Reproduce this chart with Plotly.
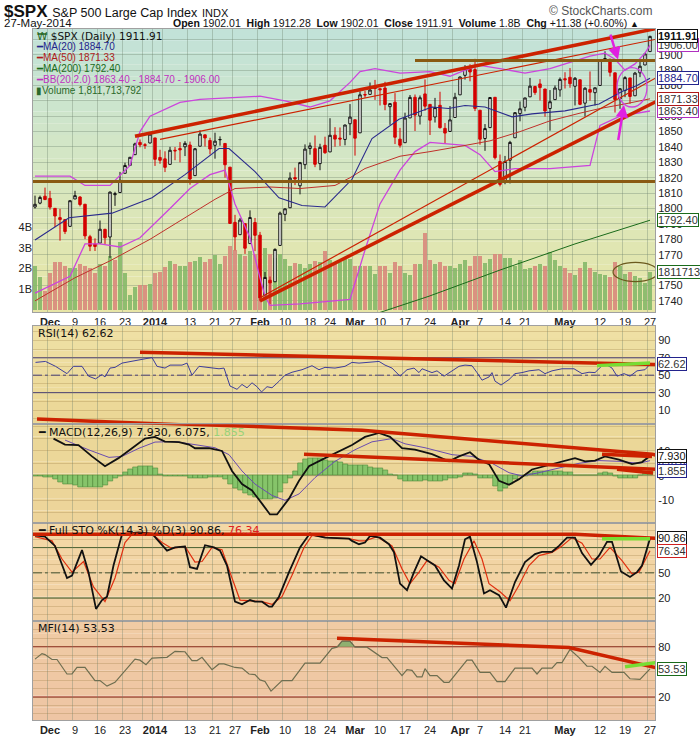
import plotly.graph_objects as go

# trading days shown on the chart; Dec 2 2013 sits at position 0
month_days = [
    ("2013-11", [26, 27, 29]),
    ("2013-12", [2, 3, 4, 5, 6, 9, 10, 11, 12, 13, 16, 17, 18, 19, 20, 23, 24, 26, 27, 30, 31]),
    ("2014-01", [2, 3, 6, 7, 8, 9, 10, 13, 14, 15, 16, 17, 21, 22, 23, 24, 27, 28, 29, 30, 31]),
    ("2014-02", [3, 4, 5, 6, 7, 10, 11, 12, 13, 14, 18, 19, 20, 21, 24, 25, 26, 27, 28]),
    ("2014-03", [3, 4, 5, 6, 7, 10, 11, 12, 13, 14, 17, 18, 19, 20, 21, 24, 25, 26, 27, 28, 31]),
    ("2014-04", [1, 2, 3, 4, 7, 8, 9, 10, 11, 14, 15, 16, 17, 21, 22, 23, 24, 25, 28, 29, 30]),
    ("2014-05", [1, 2, 5, 6, 7, 8, 9, 12, 13, 14, 15, 16, 19, 20, 21, 22, 23, 27]),
]
dates = [f"{m}-{d:02d}" for m, days in month_days for d in days]
pos = [i - dates.index("2013-12-02") for i in range(len(dates))]

opens = [1801.0, 1803.5, 1808.0, 1806.6, 1800.1, 1794.1, 1792.8, 1788.4, 1806.2, 1807.5, 1802.8, 1781.7, 1777.0,
         1777.5, 1786.5, 1781.5, 1809.0, 1810.4, 1822.9, 1828.0, 1835.0, 1843.0, 1841.5, 1842.6,
         1845.9, 1833.2, 1832.3, 1828.7, 1837.9, 1839.0, 1840.1, 1841.3, 1821.4, 1840.5,
         1847.9, 1844.2, 1841.1, 1844.7, 1842.3, 1826.9, 1791.0, 1783.0, 1790.2, 1777.2,
         1790.9, 1782.7, 1743.8, 1753.4, 1752.4, 1776.0, 1796.2, 1800.5, 1820.1, 1814.8,
         1828.5, 1839.0, 1838.9, 1829.2, 1841.1, 1836.8, 1847.7, 1845.8, 1844.9, 1855.1,
         1857.7, 1849.2, 1874.1, 1874.2, 1878.5, 1877.9, 1878.3, 1866.2, 1869.1, 1845.1,
         1842.8, 1858.9, 1872.3, 1860.1, 1874.5, 1867.7, 1859.5, 1867.1, 1852.1, 1850.1,
         1859.2, 1873.9, 1886.6, 1891.4, 1890.3, 1863.9, 1845.5, 1852.6, 1872.3, 1830.6,
         1818.2, 1831.4, 1846.0, 1861.7, 1865.8, 1872.6, 1879.3, 1881.0, 1877.7, 1865.0,
         1870.8, 1877.1, 1884.4, 1885.3, 1879.5, 1883.7, 1868.5, 1877.4, 1875.3, 1880.0,
         1896.8, 1897.1, 1888.2, 1871.2, 1876.7, 1884.9, 1873.3, 1888.2, 1893.3, 1902.0]
highs = [1808.4, 1808.4, 1813.6, 1811.5, 1800.1, 1799.8, 1792.8, 1805.1, 1811.5, 1808.0, 1802.9, 1782.9, 1780.6,
         1792.2, 1786.8, 1811.1, 1810.9, 1823.8, 1829.8, 1833.4, 1842.8, 1844.9, 1842.5, 1849.4,
         1845.9, 1838.2, 1837.2, 1840.1, 1840.0, 1843.2, 1843.8, 1843.5, 1839.3, 1850.8,
         1847.9, 1846.0, 1849.3, 1846.9, 1842.3, 1826.9, 1795.9, 1793.9, 1790.2, 1798.8,
         1793.9, 1784.8, 1758.7, 1755.8, 1774.1, 1798.0, 1799.9, 1823.5, 1826.6, 1830.3,
         1841.7, 1842.9, 1847.5, 1842.1, 1846.7, 1858.7, 1852.9, 1852.7, 1854.5, 1867.9,
         1857.7, 1876.2, 1876.5, 1881.9, 1883.6, 1877.9, 1882.4, 1868.4, 1875.0, 1852.4,
         1862.3, 1873.8, 1874.1, 1873.5, 1883.9, 1867.9, 1871.9, 1875.9, 1855.6, 1866.6,
         1875.2, 1885.8, 1893.2, 1893.8, 1897.3, 1864.0, 1854.9, 1872.4, 1872.5, 1835.1,
         1834.2, 1844.0, 1862.5, 1869.6, 1871.9, 1884.9, 1879.8, 1884.1, 1877.7, 1877.0,
         1880.0, 1885.2, 1888.6, 1891.3, 1885.5, 1883.7, 1878.8, 1889.1, 1878.6, 1897.1,
         1902.2, 1897.1, 1888.2, 1878.3, 1886.0, 1884.9, 1888.8, 1896.3, 1901.3, 1912.3]
lows = [1800.0, 1802.8, 1805.5, 1799.3, 1787.9, 1779.1, 1783.4, 1788.4, 1806.2, 1801.4, 1780.1, 1772.3, 1772.4,
        1777.5, 1777.0, 1767.9, 1801.7, 1810.4, 1822.9, 1828.0, 1835.0, 1839.8, 1838.8, 1842.4,
        1827.7, 1829.1, 1823.7, 1828.7, 1831.4, 1830.0, 1834.1, 1815.5, 1821.4, 1840.5,
        1840.3, 1835.2, 1832.4, 1840.9, 1820.1, 1790.0, 1772.9, 1783.0, 1770.5, 1777.2,
        1772.3, 1739.7, 1743.8, 1737.9, 1752.4, 1776.0, 1791.8, 1800.4, 1815.2, 1809.2,
        1825.6, 1835.0, 1826.9, 1824.9, 1835.6, 1836.8, 1840.2, 1840.7, 1841.1, 1847.7,
        1834.4, 1849.2, 1872.0, 1874.2, 1870.6, 1867.0, 1863.9, 1854.4, 1841.9, 1839.6,
        1842.8, 1858.9, 1850.4, 1854.6, 1863.5, 1847.8, 1855.9, 1852.0, 1842.1, 1850.1,
        1859.2, 1873.9, 1883.8, 1882.7, 1863.3, 1841.5, 1837.5, 1852.4, 1831.9, 1814.4,
        1815.8, 1816.3, 1846.0, 1856.7, 1863.2, 1872.6, 1873.9, 1870.2, 1859.7, 1850.6,
        1870.8, 1872.7, 1878.0, 1878.5, 1867.0, 1867.2, 1859.8, 1870.1, 1867.0, 1880.0,
        1896.1, 1885.8, 1862.4, 1864.8, 1872.4, 1868.1, 1873.3, 1885.4, 1893.3, 1902.0]
closes = [1802.75, 1807.23, 1805.81, 1800.90, 1795.15, 1792.81, 1785.03, 1805.09, 1808.37, 1802.62, 1782.22, 1775.50, 1775.32,
          1786.54, 1781.00, 1810.65, 1809.60, 1818.32, 1827.99, 1833.32, 1842.02, 1841.40, 1841.07, 1848.36,
          1831.98, 1831.37, 1826.77, 1837.88, 1837.49, 1838.13, 1842.37, 1819.20, 1838.88, 1848.38,
          1845.89, 1838.70, 1843.80, 1844.86, 1828.46, 1790.29, 1781.56, 1792.50, 1774.20, 1794.19,
          1782.59, 1741.89, 1755.20, 1751.64, 1773.43, 1797.02, 1799.84, 1819.75, 1819.26, 1829.83,
          1838.63, 1840.76, 1828.75, 1839.78, 1836.25, 1847.61, 1845.12, 1845.16, 1854.29, 1859.45,
          1845.73, 1873.91, 1873.81, 1877.03, 1878.04, 1877.17, 1867.63, 1868.20, 1846.34, 1841.13,
          1858.83, 1872.25, 1860.77, 1872.01, 1866.52, 1857.44, 1865.62, 1852.56, 1849.04, 1857.62,
          1872.34, 1885.52, 1890.90, 1888.77, 1865.09, 1845.04, 1851.96, 1872.18, 1833.08, 1815.69,
          1830.61, 1842.98, 1862.31, 1864.85, 1871.89, 1879.55, 1875.39, 1878.61, 1863.40, 1869.43,
          1878.33, 1883.95, 1883.68, 1881.14, 1884.66, 1867.72, 1878.21, 1875.63, 1878.48, 1896.65,
          1897.45, 1888.53, 1870.85, 1877.86, 1885.08, 1872.83, 1888.03, 1892.49, 1900.53, 1911.91]
# volume in billions of shares
volume_b = [2.1, 1.6, 0.9,
            1.8, 2.3, 2.3, 2.1, 2.0, 2.0, 2.2, 2.1, 2.0, 1.8, 2.2, 2.1, 2.6, 2.4, 3.3, 1.8, 0.7, 1.1, 1.2, 1.2, 1.25,
            1.8, 1.85, 2.05, 2.35, 2.2, 2.1,
            2.1, 2.3, 2.35, 2.55, 2.3, 2.45, 2.65, 2.2, 2.6, 3.1, 2.9, 2.7, 2.6, 2.85, 2.7,
            2.45, 3.0, 2.7, 2.5, 2.7, 2.45, 2.1, 2.25, 2.2, 2.0, 2.2, 2.35, 2.3, 2.85, 2.4,
            2.25, 2.3, 2.45, 2.45, 2.1, 2.1, 2.1, 2.1, 1.75, 2.1, 2.1, 1.8, 2.3, 2.1, 1.8, 1.7,
            2.2, 2.2, 3.7, 2.4, 2.2, 2.3, 2.1, 2.1, 2.0, 2.2, 2.4, 2.1, 2.6, 2.6, 2.25, 2.45,
            2.7, 2.7, 2.5, 2.5, 2.1, 2.4, 1.95, 2.0, 2.1, 2.2, 2.1, 2.8, 2.4, 2.1, 2.0, 1.8,
            1.7, 2.0, 2.3, 2.0, 1.85, 1.75, 1.7, 1.6, 2.3, 2.1, 1.75, 1.85, 1.65, 1.55, 1.3, 1.81]

# overlays (position, value)
ma20_x = [-3, 3.8, 12.4, 20.4, 27, 33.8, 35.8, 41, 45.8, 50.4, 55, 60.4, 64.4, 69.8, 76.4, 79.7, 83, 87,
          92.4, 96.4, 103, 109.8, 114.4, 117.4, 120]
ma20_y = [1779.5, 1794, 1797, 1807, 1822, 1839, 1839, 1824, 1807, 1802, 1801, 1819, 1845.5, 1858, 1866, 1865,
          1867, 1866, 1859.6, 1861.5, 1863.5, 1868, 1876, 1880, 1884.70]
ma50_x = [-3, 5, 12, 20, 27, 33, 37, 44, 50, 57, 60, 63, 70, 76, 83, 88, 94, 100, 106, 110, 115, 120]
ma50_y = [1740, 1755, 1766, 1780, 1794, 1806, 1813, 1814, 1813, 1815, 1820, 1826, 1834, 1837, 1841, 1844,
          1850, 1857, 1862, 1865, 1868, 1871.33]
ma200_x = [60, 75.8, 90, 105, 120]
ma200_y = [1726, 1743, 1760, 1777, 1792.40]
bbu_x = [-3, 4, 7, 12, 16, 18, 20, 26, 30, 36, 42, 47, 52, 56, 60, 62, 65, 70, 76, 80, 83, 86, 90, 95, 100,
         104, 108, 111, 113, 115, 117, 119, 120]
bbu_y = [1821, 1821, 1815, 1815, 1828, 1850, 1860, 1869, 1871, 1872, 1873, 1870, 1866, 1870, 1882, 1889, 1891,
         1888, 1889, 1886, 1890, 1893, 1891, 1888, 1891, 1895, 1899, 1901, 1897, 1890, 1894, 1901, 1906.00]
bbl_x = [-3, 4, 7, 10, 14, 18, 24, 28, 32, 35, 37, 40, 42, 43, 44, 50, 60, 63, 66, 70, 73, 76, 83, 86, 89,
         93, 100, 108, 110, 114, 120]
bbl_y = [1745, 1756, 1777, 1777, 1775, 1781, 1800, 1813, 1822, 1825, 1803, 1781, 1755, 1743, 1737, 1738, 1741,
         1773, 1803, 1825, 1837, 1843, 1841, 1835, 1824, 1826, 1826, 1828, 1854, 1860, 1863.40]

rsi_x = [-2.9, -0.9, 1.1, 3.4, 4.7, 6.4, 7.7, 9.1, 10.4, 11, 12, 13, 14.4, 16.4, 18.4, 20.4, 21.4, 23, 24, 26.4,
         27.4, 28.4, 29.8, 31.8, 33.8, 34.8, 36, 37.4, 38.4, 39.4, 40.4, 41.4, 42.3, 43.4, 44.4, 45.8, 47, 48.4,
         50.4, 52.4, 53.8, 55, 57, 59, 60.4, 61.8, 64.4, 65.8, 67, 68.4, 70, 71.4, 72.8, 73.8, 74.4, 76.4, 77.4,
         78.8, 80, 81.8, 83, 84.4, 85.4, 86.4, 87.8, 88.4, 89, 90.2, 91.8, 93, 94.4, 95.8, 97.8, 99, 100.4, 102.4,
         104.8, 106.4, 107.8, 109, 110.4, 111.4, 112.4, 113.4, 114.8, 116, 117.4, 119, 120]
rsi_y = [64.7, 65.8, 60.2, 51.8, 60.2, 60.2, 48.9, 45.8, 50.7, 48, 58.2, 59, 63.9, 65.8, 68.4, 70.3, 60.2, 58.2,
         61.6, 61.6, 63.9, 50, 60.2, 59, 57.4, 58.2, 37.6, 33.8, 39.4, 35.6, 41.3, 36.8, 30.8, 36.8, 35.6, 43, 50,
         53.4, 56.3, 60.9, 56.3, 59, 58.2, 60.2, 64.7, 63.9, 64.7, 65.8, 61.6, 58.2, 48.9, 56.3, 58.2, 53, 57.4,
         53, 55, 48.9, 53.4, 60.2, 61.6, 60.9, 53, 44.3, 48, 53, 43.2, 38.7, 45, 51.8, 53, 55, 56.3, 51.8, 55,
         57.4, 57.4, 51.8, 53.4, 53, 60.9, 61.6, 58.2, 48.9, 51.8, 48.9, 55, 56.3, 62.62]

macd_x = [0.7, 3, 5.7, 8.4, 11, 13.7, 16.4, 19, 21, 23, 25.8, 27.8, 29, 31.8, 34.4, 36.4, 38.4, 40.4, 42.4, 44,
          45.4, 47.8, 49.8, 51.8, 54.4, 57.8, 60.4, 63, 65.8, 68, 70.4, 73, 76.4, 79.8, 81.8, 84, 85.8, 87.8, 89.8,
          91.8, 93.8, 96.4, 99, 102.4, 105, 107, 109, 111, 113.8, 116.4, 118.4, 120]
macd_y = [15.0, 12.6, 12.4, 7.8, 3.8, 7.1, 11.1, 15.0, 15.7, 13.8, 13.6, 12.6, 11.1, 11.1, 10.0, 1.9, -3.4, -6.0,
          -11.3, -15.7, -15.7, -9.3, -2.1, 3.8, 6.5, 9.8, 12.4, 15.7, 17.3, 15.7, 11.1, 10.5, 8.7, 5.8, 7.8, 9.5,
          6.4, 4.7, -2.1, -3.7, -1.4, 2.5, 3.8, 5.8, 7.1, 5.8, 6.1, 7.8, 6.5, 4.7, 5.5, 7.930]
signal_x = [3, 7.8, 11.8, 14.4, 17.8, 21, 25, 29, 33, 35.8, 38.4, 41, 44.4, 47, 49.8, 53, 57, 61, 64.4, 68.4,
            71, 75, 80.4, 84.4, 88.4, 91.8, 94.4, 97.8, 101.8, 105.8, 109.8, 113.8, 117.8, 120]
signal_y = [14.4, 10.4, 7.4, 7.8, 11.1, 13.6, 13.8, 12.6, 11.3, 8.5, 1.9, -3.4, -8.0, -10.0, -7.4, -0.8, 5.8,
            10.5, 13.7, 15.0, 12.9, 11.3, 8.5, 7.8, 5.0, 1.2, -0.1, 1.2, 3.2, 5.0, 6.1, 5.8, 5.0, 6.075]
macd_hist = [-0.3, -0.3, -0.5, -0.8, -1.5, -2.5, -3.5, -3.5, -3.8, -4.9, -4.9, -4.9, -4.9,
             -4.5, -3.8, -2.2, -1.0, -0.3, 1.5, 2.4, 3.2, 4.0, 4.0, 4.0,
             3.0, 0.4, -0.3, -0.3, -0.3, -0.3, -0.3, -0.9, -0.9, -0.9,
             -0.9, -0.7, -0.7, -0.7, -1.5, -3.5, -5.0, -6.0, -7.0, -8.0,
             -8.8, -9.5, -9.5, -9.5, -9.0, -6.8, -3.0, -0.9, 1.7, 5.0,
             6.5, 7.0, 7.0, 7.0, 6.2, 5.7, 5.7, 5.5, 4.8, 4.3,
             4.3, 4.3, 4.3, 3.5, 3.0, 3.0, 2.0, 0.6, 0.2, -1.5,
             -2.2, -2.2, -2.2, -2.2, -2.0, -2.2, -2.2, -2.2, -1.8, -0.9,
             -0.9, -0.5, 1.0, 1.0, 0.5, -0.9, -0.9, -0.9, -4.2, -6.2,
             -5.0, -3.5, -1.5, -0.3, -0.3, 1.0, 1.7, 1.7, 1.7, 1.7,
             1.7, 1.7, 1.5, 1.2, 0.3, 0.1, 0.1, 0.1, 0.3, 1.0,
             1.4, 1.0, -0.3, -0.9, -0.9, -0.9, -0.9, 0.0, 1.0, 1.855]

stok_x = [-3, -1, 1, 3.4, 4.4, 6.4, 7.7, 9.2, 10.4, 11.4, 12.7, 14.4, 15.7, 17.7, 20.4, 21.7, 23.4, 25, 27, 28,
          29.4, 31, 32.8, 34, 35.4, 37, 38.4, 40, 41, 42.4, 43.8, 44.4, 45.8, 47.8, 50, 52, 53, 55, 57.8, 59.8,
          60.4, 61.8, 63, 64, 66, 67.8, 68.8, 70, 71.4, 72.8, 74.2, 75.8, 77, 78.8, 80.4, 81.8, 83, 84, 85.4, 86.8,
          88, 89.8, 91.2, 93, 95, 97, 98.4, 100.4, 101.8, 103.4, 105, 106.4, 108.2, 109.8, 111.4, 112.4, 114.2,
          116, 117.4, 118.4, 120]
stok_y = [94.5, 93, 82, 43.8, 46.8, 77, 50.8, 7.1, 17.6, 21.6, 58.7, 95.7, 97, 98, 96.5, 88, 76.3, 80.2, 81.3,
          56.7, 54.7, 82.8, 80.2, 76.3, 58.7, 15.7, 12.5, 17.6, 15.7, 15.7, 9.8, 9.8, 21.6, 50.8, 80.2, 97, 94.5,
          91.8, 90.6, 90.6, 88, 84, 86, 93.8, 91.8, 84, 74.3, 37.1, 29.3, 50.8, 69.6, 63.4, 58.7, 41, 31.3, 58.7,
          89.9, 93, 62.7, 25.4, 29.3, 23.5, 8.6, 39, 62.7, 72.3, 75, 75, 82, 91.8, 91.8, 73.5, 59.5, 70.4, 86.8,
          86.8, 51.6, 45, 50.8, 58.7, 90.86]
stod_x = [-3, 0.4, 2.4, 4.4, 6.7, 8.7, 11, 13, 15, 16.4, 20.4, 22.4, 24.4, 27, 29, 30.4, 32.4, 34.4, 36.4, 38,
          40.4, 42.4, 44.4, 46.4, 48.4, 50.8, 52.4, 55.8, 59.8, 61.8, 63, 65.4, 68.4, 70.4, 72, 73.8, 75.4, 77.8,
          79.8, 81, 82.8, 84.8, 86.4, 87.8, 90, 92, 93.8, 95.8, 97.8, 100.4, 102.4, 104.4, 106.4, 108.4, 110, 112,
          114.4, 116.4, 117.8, 120]
stod_y = [93, 88, 66.4, 50.8, 63.4, 33.2, 15.7, 43.8, 86, 95.7, 96.5, 86, 79, 81.3, 62.7, 63.4, 80.2, 77.5, 43.8,
          17.6, 16.6, 15.7, 12.5, 21.6, 47, 80.2, 94.5, 91.8, 90.6, 88, 88, 93, 82, 54.7, 37.1, 50.8, 64.5, 56.7,
          41, 37.1, 66.4, 88, 66.4, 37.1, 27.4, 16.6, 35.2, 58.7, 70.4, 74.3, 82, 91.8, 85.2, 66.4, 66.4, 80.2,
          64.5, 48.8, 50.8, 76.34]

mfi_x = [-3, -1.6, -1, 0.4, 1.4, 3.4, 4.4, 5.4, 7, 9, 10, 11.4, 13, 15, 17, 18, 19.2, 20.4, 21.7, 23.4, 25, 27,
         28.4, 29.4, 30.4, 32.4, 33.8, 34.8, 37, 38.4, 39.8, 41, 42, 43, 44.2, 46.4, 48.4, 51, 54, 56.4, 57.4,
         58.4, 60, 61, 63.4, 66.4, 67.4, 70.4, 71.4, 72.4, 73.4, 74.4, 75, 76, 77.4, 78.8, 79.8, 83.4, 84.4, 86,
         88, 89.4, 91, 93, 96.4, 97.4, 98.4, 100.4, 101.4, 102.4, 104, 105.8, 107.4, 108.4, 110, 111, 112.4,
         114.8, 116, 118, 120]
mfi_y = [65.2, 71.8, 70.6, 64.8, 64.8, 47.5, 47.5, 55.3, 55.3, 39.6, 39.6, 33, 37.6, 51.5, 65.2, 64, 58.6, 66.5,
         66.5, 67.4, 74.5, 74, 63.5, 63.5, 67.4, 52.6, 59.5, 59.5, 55.3, 54.5, 47.5, 46.8, 40.4, 38.5, 27.1, 39.6,
         39.6, 60.4, 60.4, 78.1, 79.5, 86.7, 86.7, 79.5, 79.5, 67.1, 67.1, 45.5, 52.6, 51.8, 44, 44, 53.8, 45.5,
         45.5, 37.6, 37.6, 64, 64, 49.4, 49.4, 38.5, 38.5, 54.5, 54.5, 47.5, 54.5, 54.5, 61, 61, 76.7, 67.1, 56.7,
         56.7, 49.4, 56.7, 49.4, 49.4, 41.8, 41, 53.53]
mfi_peak_x = [57.6, 58.4, 60, 60.9]
mfi_peak_y = [80, 86.7, 86.7, 80]

# hand drawn trend lines (position, value)
price_lines = [
    ([17, 121.2], [1847, 1917], "#cc2200", 3.5),
    ([22, 121.2], [1845, 1910], "#cc2200", 1.2),
    ([42, 121.2], [1740, 1869.5], "#cc2200", 3.5),
    ([42, 121.2], [1742, 1885], "#cc2200", 1.2),
    ([73, 121.2], [1896.3, 1896.3], "#8a5a12", 3),
    ([-3.6, 121.2], [1817.5, 1817.5], "#8a5a12", 3),
]
rsi_lines = [([18, 121.2], [76.3, 62.2], "#cc2200", 3.5),
             ([-2.6, 31], [-0.2, -8], "#cc2200", 3.5),
             ([109.4, 120], [61, 64], "#77dd33", 3.5)]
macd_lines = [([-2.6, 62.4, 120.4, 121.2], [22.9, 18.4, 8.7, 8.3], "#cc2200", 3.5),
              ([50.8, 121.2], [8.7, 2.6], "#cc2200", 3.5),
              ([110.4, 120.4], [8.7, 7.8], "#cc2200", 3.5),
              ([113.4, 120.6], [2.6, 1.1], "#cc2200", 3.5)]
sto_lines = [([-3.6, 105, 121.2], [95.7, 95.7, 91], "#cc2200", 3.5),
             ([110.4, 120], [90.5, 90.5], "#77dd33", 3.5)]
mfi_lines = [([57.4, 103.8, 121.2], [90, 79, 55], "#cc2200", 3.5),
             ([115, 121.2], [56, 61], "#77dd33", 3.5)]

tick_days = ["2013-12-02", "2013-12-09", "2013-12-16", "2013-12-23", "2014-01-02", "2014-01-13", "2014-01-21",
             "2014-01-27", "2014-02-03", "2014-02-10", "2014-02-18", "2014-02-24", "2014-03-03", "2014-03-10",
             "2014-03-17", "2014-03-24", "2014-04-01", "2014-04-07", "2014-04-14", "2014-04-21", "2014-05-01",
             "2014-05-12", "2014-05-19", "2014-05-27"]
tick_text = ["<b>Dec</b>", "9", "16", "23", "<b>2014</b>", "13", "21", "27", "<b>Feb</b>", "10", "18", "24",
             "<b>Mar</b>", "10", "17", "24", "<b>Apr</b>", "7", "14", "21", "<b>May</b>", "12", "19", "27"]
grid_days = ["2013-12-02", "2013-12-09", "2013-12-16", "2013-12-23", "2013-12-30", "2014-01-02", "2014-01-06",
             "2014-01-13", "2014-01-21", "2014-01-27", "2014-02-03", "2014-02-10", "2014-02-18", "2014-02-24",
             "2014-03-03", "2014-03-10", "2014-03-17", "2014-03-24", "2014-03-31", "2014-04-07", "2014-04-14",
             "2014-04-21", "2014-04-28", "2014-05-01", "2014-05-05", "2014-05-12", "2014-05-19", "2014-05-27"]


def at(day):
    return pos[dates.index(day)]


tick_pos = [at(d) for d in tick_days]
grid_pos = [at(d) - 0.5 for d in grid_days]

# page geometry (pixels) -> paper coordinates
W, H, ML, MR, MT, MB = 700, 748, 33, 45, 29, 18


def fx(px):
    return (px - ML) / (W - ML - MR)


def fy(py):
    return (H - MB - py) / (H - MT - MB)


dom_main = [fy(316), 1]
dom_rsi = [fy(430), fy(330)]
dom_macd = [fy(530), fy(430)]
dom_sto = [fy(630), fy(530)]
dom_mfi = [0, fy(630)]

fig = go.Figure()

vol_colors = ["#86b96a" if i == 0 or closes[i] >= closes[i - 1] else "#d98a7c" for i in range(len(closes))]
fig.add_trace(go.Bar(x=pos, y=[v * 1e9 for v in volume_b], marker=dict(color=vol_colors, line_width=0),
                     width=0.85, opacity=0.9, xaxis="x", yaxis="y"))
fig.add_trace(go.Candlestick(x=pos, open=opens, high=highs, low=lows, close=closes, xaxis="x", yaxis="y2",
                             whiskerwidth=0,
                             increasing=dict(line=dict(color="#111111", width=1), fillcolor="white"),
                             decreasing=dict(line=dict(color="#d40000", width=1), fillcolor="#d40000")))


def line(x, y, color, width, xa, ya, dash=None):
    fig.add_trace(go.Scatter(x=x, y=y, mode="lines", xaxis=xa, yaxis=ya, hoverinfo="skip",
                             line=dict(color=color, width=width, dash=dash)))


line(bbu_x, bbu_y, "#cc44dd", 1.3, "x", "y2")
line(bbl_x, bbl_y, "#cc44dd", 1.3, "x", "y2")
line(ma200_x, ma200_y, "#1a6b1a", 1, "x", "y2")
line(ma50_x, ma50_y, "#c0302a", 1, "x", "y2")
line(ma20_x, ma20_y, "#2a2a8c", 1.1, "x", "y2")
for xs, ys, c, w in price_lines:
    line(xs, ys, c, w, "x", "y2")

line(rsi_x, rsi_y, "#3d3d9a", 1, "x2", "y3")
for xs, ys, c, w in rsi_lines:
    line(xs, ys, c, w, "x2", "y3")

fig.add_trace(go.Bar(x=pos, y=macd_hist, width=1.0, xaxis="x3", yaxis="y4",
                     marker=dict(color="#86c46a", line=dict(color="#4e8a3a", width=0.6))))
line(signal_x, signal_y, "#6a4cb0", 1, "x3", "y4")
line(macd_x, macd_y, "#111111", 1.8, "x3", "y4")
for xs, ys, c, w in macd_lines:
    line(xs, ys, c, w, "x3", "y4")

line(stod_x, stod_y, "#e03010", 1.2, "x4", "y5")
line(stok_x, stok_y, "#111111", 1.8, "x4", "y5")
for xs, ys, c, w in sto_lines:
    line(xs, ys, c, w, "x4", "y5")

fig.add_trace(go.Scatter(x=mfi_peak_x, y=mfi_peak_y, mode="lines", fill="toself", fillcolor="#8fb070",
                         line=dict(color="#6e6e50", width=1), xaxis="x5", yaxis="y6", hoverinfo="skip"))
line(mfi_x, mfi_y, "#6e6e50", 1.2, "x5", "y6")
for xs, ys, c, w in mfi_lines:
    line(xs, ys, c, w, "x5", "y6")


def mix(c1, c2, t):
    a = [int(c1[i:i + 2], 16) for i in (1, 3, 5)]
    b = [int(c2[i:i + 2], 16) for i in (1, 3, 5)]
    return "rgb(%d,%d,%d)" % tuple(round(a[k] + (b[k] - a[k]) * t) for k in range(3))


shapes = []


def gradient(yref, stops, n=24):
    for k in range(n):
        t = k / (n - 1) * (len(stops) - 1)
        j = min(int(t), len(stops) - 2)
        shapes.append(dict(type="rect", xref="paper", yref=yref + " domain", x0=0, x1=1,
                           y0=1 - (k + 1) / n, y1=1 - k / n, fillcolor=mix(stops[j], stops[j + 1], t - j),
                           line_width=0, layer="below"))


gradient("y", ["#c2e2d8", "#d6e7c2", "#e7e5a6"])
gradient("y3", ["#efe0a4", "#ebd796"], 8)
gradient("y4", ["#ebd898", "#edd49a"], 8)
gradient("y5", ["#f3d8a6", "#f1cfa2"], 8)
gradient("y6", ["#f0cba4", "#eec5a4"], 8)


def hline(ya, v, color, dash="solid", width=1):
    shapes.append(dict(type="line", xref="paper", yref=ya, x0=0, x1=1, y0=v, y1=v,
                       line=dict(color=color, width=width, dash=dash), layer="below"))


hline("y3", 70, "#30308a")
hline("y3", 30, "#30308a")
hline("y3", 50, "#30308a", "dashdot")
hline("y4", 0, "#9a9a70", width=0.6)
hline("y5", 80, "#2d5a2d")
hline("y5", 20, "#2d5a2d")
hline("y5", 50, "#2d4a2d", "dashdot")
hline("y6", 80, "#8b1a1a")
hline("y6", 20, "#8b1a1a")

# annotation marks drawn on the price panel
shapes.append(dict(type="circle", xref="x", yref="y2", x0=113.4, x1=119.4, y0=1866, y1=1891.6,
                   line=dict(color="#cc44dd", width=1.3)))
shapes.append(dict(type="circle", xref="x", yref="y2", x0=112.6, x1=121.6, y0=1752.5, y1=1765,
                   line=dict(color="#6b5a1e", width=1.2)))

grid_c = "rgba(110,130,110,0.35)"
grid_low = "rgba(150,120,60,0.28)"
xcommon = dict(range=[-3.4, 121.0], showline=True, mirror=True, linecolor="#a0a0a0", linewidth=1,
               showgrid=False, zeroline=False, ticks="", tickmode="array", tickvals=tick_pos, ticktext=tick_text,
               tickfont=dict(size=11, color="#222222"),
               minor=dict(tickmode="array", tickvals=grid_pos, showgrid=True, gridcolor=grid_c, gridwidth=1))
ycommon = dict(side="right", showline=True, mirror=True, linecolor="#a0a0a0", linewidth=1, zeroline=False,
               ticks="", tickfont=dict(size=11, color="#222222"), showgrid=True, gridcolor=grid_low, gridwidth=1)


def osc_ticks(lo, hi, step, labelled):
    vals = [lo + step * k for k in range(int((hi - lo) / step) + 1)]
    return dict(tickmode="array", tickvals=vals,
                ticktext=[("%g" % v if v in labelled else "") for v in vals])


layout_axes = dict(
    xaxis=dict(xcommon, anchor="y", domain=[0, 1], rangeslider=dict(visible=False)),
    xaxis2=dict(xcommon, anchor="y3", matches="x", showticklabels=False),
    xaxis3=dict(xcommon, anchor="y4", matches="x", showticklabels=False),
    xaxis4=dict(xcommon, anchor="y5", matches="x", showticklabels=False),
    xaxis5=dict(xcommon, anchor="y6", matches="x", showticklabels=True),
    yaxis=dict(domain=dom_main, side="left", range=[-0.1e9, 13.57e9], showgrid=False, zeroline=False,
               tickmode="array", tickvals=[1e9, 2e9, 3e9, 4e9], ticktext=["1B", "2B", "3B", "4B"], ticks="",
               tickfont=dict(size=11, color="#222222"), showline=False),
    yaxis2=dict(ycommon, overlaying="y", anchor="x", range=[1732.8, 1916.7],
                tickmode="array", tickvals=list(range(1740, 1911, 10)), gridcolor=grid_c),
    yaxis3=dict(ycommon, domain=dom_rsi, anchor="x2", range=[-6.3, 106.8],
                **osc_ticks(0, 100, 10, [10, 30, 50, 70, 90])),
    yaxis4=dict(ycommon, domain=dom_macd, anchor="x3", range=[-19.1, 20.8],
                **osc_ticks(-15, 20, 5, [-10, 0, 10])),
    yaxis5=dict(ycommon, domain=dom_sto, anchor="x4", range=[-7.8, 109.4],
                **osc_ticks(0, 100, 10, [20, 50, 80])),
    yaxis6=dict(ycommon, domain=dom_mfi, anchor="x5", range=[-7.4, 110.2],
                **osc_ticks(0, 100, 10, [20, 50, 80])),
)

ann = []


def text(px, py, s, size=11, color="#111111", anchor="left", family="Liberation Sans"):
    ann.append(dict(xref="paper", yref="paper", x=fx(px), y=fy(py), text=s, showarrow=False,
                    xanchor=anchor, yanchor="middle", font=dict(size=size, color=color, family=family)))


text(2, 11, "<b>$SPX</b> <span style='font-size:12.5px'>S&P 500 Large Cap Index</span>"
            " <span style='font-size:11px'>INDX</span>", size=17)
text(655, 11, "© StockCharts.com", size=12, color="#555555", anchor="right")
text(2, 23, "27-May-2014", size=11.5)
text(641, 23, "<b>Open</b> 1902.01  <b>High</b> 1912.28  <b>Low</b> 1902.01  <b>Close</b> 1911.91  "
              "<b>Volume</b> 1.8B  <b>Chg</b> +11.38 (+0.60%) <span style='font-size:9px'>▲</span>",
     size=10.5, anchor="right")

text(35, 36, "<span style='color:#2a6a2a'>₩</span> $SPX (Daily) 1911.91", size=10.5, family="DejaVu Sans")
text(34, 47, "━MA(20) 1884.70", size=10, color="#23238c")
text(34, 58, "━MA(50) 1871.33", size=10, color="#b01a1a")
text(34, 69, "━MA(200) 1792.40", size=10, color="#1a6b1a")
text(34, 80, "━BB(20,2.0) 1863.40 - 1884.70 - 1906.00", size=10, color="#c030c0")
text(34, 91, "▮Volume 1,811,713,792", size=10, color="#2a6a2a")

text(36, 338, "RSI(14) 62.62", size=11, family="DejaVu Sans")
text(36, 438, "━ MACD(12,26,9) 7.930, 6.075, <span style='color:#99d27a'>1.855</span>", size=11,
     family="DejaVu Sans")
text(36, 538, "━ Full STO %K(14,3) %D(3) 90.86, <span style='color:#e02020'>76.34</span>", size=11,
     family="DejaVu Sans")
text(36, 637, "MFI(14) 53.53", size=11, family="DejaVu Sans")


def tag(s, yref, v, color, bold=False, txt=None):
    ann.append(dict(xref="paper", yref=yref, x=1, y=v, xanchor="left", yanchor="middle", xshift=2,
                    text=("<b>%s</b>" % s) if bold else s, showarrow=False, bgcolor="white",
                    bordercolor=color, borderwidth=1, borderpad=0,
                    font=dict(size=11, color=txt or color)))


tag("1906.00", "y2", 1906.00, "#b030c0", txt="#333333")
tag("1911.91", "y2", 1911.91, "#111111", bold=True)
tag("1884.70", "y2", 1884.70, "#23238c")
tag("1863.40", "y2", 1863.40, "#b030c0", txt="#333333")
tag("1871.33", "y2", 1871.33, "#b01a1a", txt="#333333")
tag("1792.40", "y2", 1792.40, "#1a6b1a", txt="#333333")
tag("1811713", "y", 1.8117e9, "#1a6b1a", txt="#333333")
tag("62.62", "y3", 62.62, "#23238c", txt="#333333")
tag("6.075", "y4", 6.075, "#23238c")
tag("7.930", "y4", 7.930, "#111111")
tag("1.855", "y4", 1.855, "#23238c", txt="#333333")
tag("90.86", "y5", 90.86, "#111111")
tag("76.34", "y5", 76.34, "#d02020", txt="#333333")
tag("53.53", "y6", 53.53, "#1a6b1a", txt="#333333")

# magenta arrows on the price panel
ann.append(dict(xref="x", yref="y2", x=113.6, y=1896.8, axref="x", ayref="y2", ax=112.0, ay=1914,
                showarrow=True, arrowhead=2, arrowsize=1, arrowwidth=2.5, arrowcolor="#e020e0", text=""))
ann.append(dict(xref="x", yref="y2", x=114.8, y=1867.3, axref="x", ayref="y2", ax=113.6, ay=1843.6,
                showarrow=True, arrowhead=2, arrowsize=1, arrowwidth=2.5, arrowcolor="#e020e0", text=""))

fig.update_layout(width=W, height=H, margin=dict(l=ML, r=MR, t=MT, b=MB), paper_bgcolor="white",
                  plot_bgcolor="white", showlegend=False, bargap=0, shapes=shapes, annotations=ann,
                  font=dict(family="Liberation Sans, Arial, sans-serif", size=11, color="#222222"),
                  **layout_axes)

# the page body has a default 8px margin; drop it so the figure sits at the window origin
fig.write_html("out.html", config={"displayModeBar": False},
               post_script="document.body.style.margin='0';document.body.style.overflow='hidden';")
